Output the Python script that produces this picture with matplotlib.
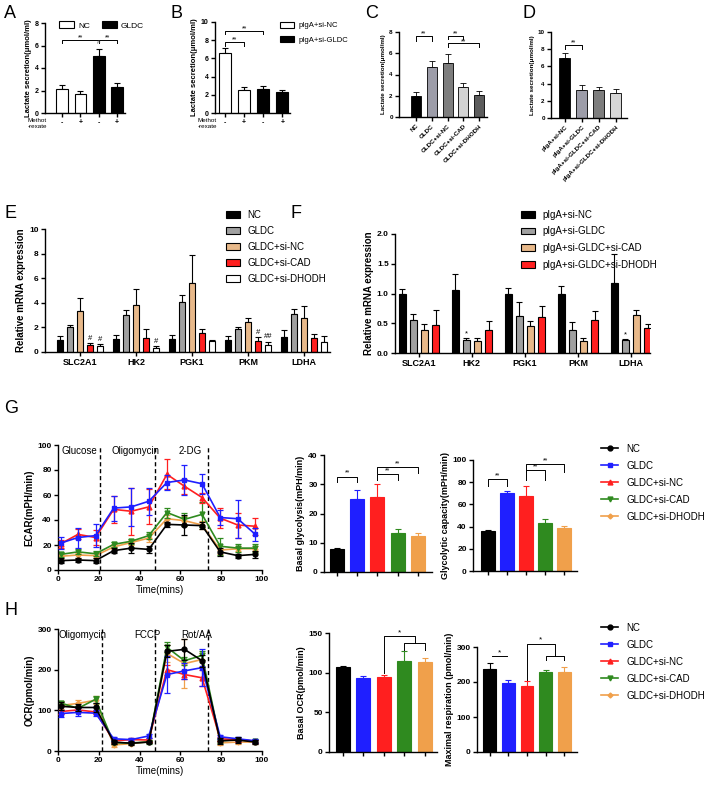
import matplotlib
matplotlib.use("Agg")
import matplotlib.pyplot as plt
from matplotlib.patches import Patch
from matplotlib.lines import Line2D
import numpy as np

plt.rcParams['font.family'] = ['Liberation Sans', 'DejaVu Sans']

# ---------------- data ----------------
# A
a_vals = [2.1, 1.7, 5.1, 2.35]
a_err = [0.4, 0.3, 0.6, 0.35]
a_ticks = ['-', '+', '-', '+']
# B
b_vals = [6.55, 2.5, 2.65, 2.3]
b_err = [0.55, 0.35, 0.3, 0.2]
b_ticks = ['-', '+', '-', '+']
# C
c_names = ['NC', 'GLDC', 'GLDC+si-NC', 'GLDC+si-CAD', 'GLDC+si-DHODH']
c_vals = [2.0, 4.75, 5.1, 2.85, 2.1]
c_err = [0.4, 0.55, 0.85, 0.35, 0.35]
# D
d_names = ['pIgA+si-NC', 'pIgA+si-GLDC', 'pIgA+si-GLDC+si-CAD', 'pIgA+si-GLDC+si-DHODH']
d_vals = [7.0, 3.25, 3.2, 2.95]
d_err = [0.6, 0.6, 0.45, 0.45]
# E
genes = ['SLC2A1', 'HK2', 'PGK1', 'PKM', 'LDHA']
e_groups = ['NC', 'GLDC', 'GLDC+si-NC', 'GLDC+si-CAD', 'GLDC+si-DHODH']
e_vals = [[1.0, 1.05, 1.05, 1.0, 1.2],
          [2.05, 3.0, 4.1, 1.85, 3.1],
          [3.3, 3.85, 5.6, 2.4, 2.75],
          [0.6, 1.1, 1.55, 0.9, 1.1],
          [0.5, 0.3, 0.9, 0.6, 0.85]]
e_err = [[0.3, 0.3, 0.35, 0.3, 0.55],
         [0.15, 0.45, 0.5, 0.15, 0.4],
         [1.1, 1.25, 2.25, 0.4, 1.0],
         [0.15, 0.8, 0.3, 0.3, 0.4],
         [0.15, 0.15, 0.05, 0.25, 0.45]]
e_marks = [(3, 0, '#'), (4, 0, '#'), (4, 1, '#'), (3, 3, '#'), (4, 3, '##')]
# F
f_groups = ['pIgA+si-NC', 'pIgA+si-GLDC', 'pIgA+si-GLDC+si-CAD', 'pIgA+si-GLDC+si-DHODH']
f_vals = [[1.0, 1.06, 1.0, 1.0, 1.17],
          [0.55, 0.22, 0.63, 0.38, 0.22],
          [0.38, 0.21, 0.45, 0.2, 0.64],
          [0.47, 0.39, 0.61, 0.55, 0.42]]
f_err = [[0.07, 0.27, 0.1, 0.12, 0.5],
         [0.1, 0.04, 0.23, 0.14, 0.02],
         [0.1, 0.05, 0.08, 0.06, 0.08],
         [0.25, 0.14, 0.18, 0.15, 0.06]]
f_marks = [(1, 1, '*'), (1, 4, '*')]
# G / H
groups = ['NC', 'GLDC', 'GLDC+si-NC', 'GLDC+si-CAD', 'GLDC+si-DHODH']
t = [1.3, 9.8, 18.4, 27.3, 35.9, 44.5, 53.4, 62.0, 70.6, 79.5, 88.1, 96.7]
ecar = [[7.5, 8, 7.5, 15.5, 17.5, 16.5, 36.5, 36, 35.5, 14.5, 11.5, 12.5],
        [21.5, 26, 27.5, 49.5, 50.5, 55, 70, 72, 69, 42, 41, 28.5],
        [21, 28.5, 26, 48.5, 47, 50.5, 76.5, 67, 58, 41.5, 36, 35],
        [12.5, 14.5, 13, 20.5, 23, 27.5, 46, 40.5, 44.5, 19, 17.5, 17.5],
        [11, 12, 11.5, 18.5, 22, 25.5, 41, 39.5, 36, 16, 17, 17]]
ecar_err = [[2, 1.5, 2, 2, 4, 3, 2, 8, 3, 3, 1.5, 2.5],
            [5, 8, 9, 10, 15, 11, 6, 12, 8, 6, 15, 5],
            [3, 4, 6, 11, 19, 14, 12, 6, 4, 8, 10, 7],
            [2, 2, 2, 2, 2, 3, 4, 5, 10, 7, 3, 3],
            [2, 2, 2, 2, 2, 3, 3, 4, 3, 3, 2, 2]]
ocr = [[110, 107, 107, 22, 19, 22, 245, 250, 222, 25, 27, 22],
       [92, 95, 93, 30, 28, 37, 188, 197, 205, 35, 30, 25],
       [97, 101, 96, 25, 28, 27, 200, 188, 180, 30, 28, 24],
       [118, 105, 127, 20, 20, 22, 255, 222, 235, 25, 28, 24],
       [112, 117, 125, 15, 18, 23, 240, 215, 225, 20, 22, 22]]
ocr_err = [[10, 8, 12, 5, 4, 3, 15, 25, 15, 8, 8, 6],
           [8, 10, 8, 5, 4, 5, 45, 20, 45, 5, 5, 5],
           [5, 6, 5, 4, 4, 4, 12, 10, 20, 5, 5, 4],
           [6, 6, 8, 4, 4, 4, 12, 10, 10, 5, 5, 4],
           [8, 8, 10, 4, 4, 4, 20, 60, 15, 5, 5, 4]]
g1_vals = [7.8, 25.0, 25.6, 13.3, 12.3]
g1_err = [0.5, 3.0, 4.4, 1.5, 0.9]
g2_vals = [36, 70.5, 67.5, 43.5, 39]
g2_err = [1, 1.5, 9, 3, 1.5]
h1_vals = [107.5, 93, 94.5, 115, 114]
h1_err = [1, 2.5, 2.5, 12, 4]
h2_vals = [238, 196, 190, 228, 228]
h2_err = [17, 10, 12, 7, 15]

seahorse_cols = ['black', '#1f1fff', '#ff1f1f', '#2f8a1f', '#f0a04b']
seahorse_mk = ['o', 's', '^', 'v', 'D']

# ---------------- helpers ----------------
W, H = 705, 785
fig = plt.figure(figsize=(W / 100, H / 100), dpi=100)


def box(l, t_, r, b):
    return fig.add_axes([l / W, 1 - b / H, (r - l) / W, (b - t_) / H])


def style(ax, fs=5, bold=True):
    for s in ['top', 'right']:
        ax.spines[s].set_visible(False)
    for s in ['left', 'bottom']:
        ax.spines[s].set_linewidth(1.0)
    ax.tick_params(labelsize=fs, length=3, width=1, pad=1.5)
    if bold:
        for lb in ax.get_yticklabels() + ax.get_xticklabels():
            lb.set_fontweight('bold')


def bars(ax, x, vals, err, cols, width, edge=None, ecol=None, lw=0.8):
    for i in range(len(vals)):
        ec = edge if edge is not None else cols[i]
        ax.bar(x[i], vals[i], width, color=cols[i], edgecolor=ec, linewidth=lw, zorder=2)
        ax.errorbar(x[i], vals[i], yerr=[[0], [err[i]]], fmt='none',
                    ecolor=ecol if ecol else ec, elinewidth=lw, capsize=2.5, capthick=lw, zorder=1)


def bracket(ax, x1, x2, y, h, text, fs=5, lw=0.7, dy=0.0):
    ax.plot([x1, x1, x2, x2], [y - h, y, y, y - h], color='black', lw=lw, clip_on=False)
    ax.text((x1 + x2) / 2, y + dy, text, ha='center', va='bottom', fontsize=fs, clip_on=False)


def letter(x, y, s):
    fig.text(x / W, 1 - y / H, s, fontsize=13, va='top', ha='left')


# ---------------- A ----------------
ax = box(45, 23, 125, 113)
x = np.arange(4)
bars(ax, x, a_vals, a_err, ['white', 'white', 'black', 'black'], 0.65, edge='black')
ax.set_xlim(-0.95, 3.45)
ax.set_ylim(0, 8)
ax.set_yticks([0, 2, 4, 6, 8])
ax.set_xticks(x)
ax.set_xticklabels(a_ticks)
ax.set_ylabel('Lactate secretion(μmol/ml)', fontsize=5.5, fontweight='bold', labelpad=2)
style(ax)
bracket(ax, 0, 2, 6.5, 0.3, '**', dy=-0.15)
bracket(ax, 2, 3, 6.5, 0.3, '**', dy=-0.15)
ax.text(2, 6.05, '#', ha='center', va='bottom', fontsize=4.5, color='#555555')
ax.legend(handles=[Patch(facecolor='white', edgecolor='black', lw=0.8),
                   Patch(facecolor='black', edgecolor='black', lw=0.8)],
          labels=['NC', 'GLDC'], ncol=2, frameon=False, fontsize=6,
          loc='upper left', bbox_to_anchor=(0.08, 1.1), handlelength=1.8, handleheight=0.8,
          columnspacing=1.4, handletextpad=0.5)
fig.text(28 / W, 1 - 118 / H, 'Methot\n-rexate', fontsize=4.5, va='top', ha='left', linespacing=1.3)
letter(4, 5, 'A')

# ---------------- B ----------------
ax = box(215, 22, 290, 113)
bars(ax, x, b_vals, b_err, ['white', 'white', 'black', 'black'], 0.63, edge='black')
ax.set_xlim(-0.53, 3.4)
ax.set_ylim(0, 10)
ax.set_yticks([0, 2, 4, 6, 8, 10])
ax.set_xticks(x)
ax.set_xticklabels(b_ticks)
ax.set_ylabel('Lactate secretion(μmol/ml)', fontsize=5.5, fontweight='bold', labelpad=2)
style(ax)
bracket(ax, 0, 1, 7.85, 0.45, '**', dy=-0.15)
bracket(ax, 0, 2, 9.05, 0.4, '**', dy=-0.15)
fig.legend(handles=[Patch(facecolor='white', edgecolor='black', lw=0.8),
                    Patch(facecolor='black', edgecolor='black', lw=0.8)],
           labels=['pIgA+si-NC', 'pIgA+si-GLDC'], frameon=False, fontsize=5.5,
           loc='upper left', bbox_to_anchor=(273 / W, 1 - 15 / H), handlelength=1.8,
           handleheight=0.8, labelspacing=0.9, handletextpad=0.6)
fig.text(198 / W, 1 - 118 / H, 'Methot\n-rexate', fontsize=4.5, va='top', ha='left', linespacing=1.3)
letter(170, 5, 'B')

# ---------------- C ----------------
ax = box(399, 32, 487, 117)
x5 = np.arange(5)
bars(ax, x5, c_vals, c_err, ['black', '#9c9ca8', '#7d7d7d', '#d3d3d3', '#5c5c5c'], 0.63, edge='black', lw=0.6)
ax.set_xlim(-1.08, 4.5)
ax.set_ylim(0, 8)
ax.set_yticks([0, 2, 4, 6, 8])
ax.set_xticks(x5)
ax.set_xticklabels(c_names, rotation=45, ha='right', rotation_mode='anchor')
ax.set_ylabel('Lactate secretion(μmol/ml)', fontsize=4.5, fontweight='bold', labelpad=2)
style(ax, fs=4.5)
bracket(ax, 0, 1, 7.6, 0.45, '**', dy=-0.15)
bracket(ax, 2, 3, 7.6, 0.3, '**', dy=-0.15)
bracket(ax, 2, 4, 6.95, 0.35, '**', dy=-0.2)
letter(365, 5, 'C')

# ---------------- D ----------------
ax = box(551, 32, 627, 118)
bars(ax, x, d_vals, d_err, ['black', '#9c9ca8', '#7d7d7d', '#d6d6d6'], 0.65, edge='black', lw=0.6)
ax.set_xlim(-0.82, 3.65)
ax.set_ylim(0, 10)
ax.set_yticks([0, 2, 4, 6, 8, 10])
ax.set_xticks(x)
ax.set_xticklabels(d_names, rotation=45, ha='right', rotation_mode='anchor')
ax.set_ylabel('Lactate secretion(μmol/ml)', fontsize=4.5, fontweight='bold', labelpad=2)
style(ax, fs=4.5)
bracket(ax, 0, 1, 8.5, 0.45, '**', dy=-0.15)
letter(522, 5, 'D')

# ---------------- E ----------------
ax = box(45, 229, 330, 352)
e_cols = ['black', '#a0a0a0', '#e8b98a', '#ff1f1f', 'white']
gx = np.arange(5)
for k in range(5):
    xs = gx + (k - 2) * 0.18
    bars(ax, xs, e_vals[k], e_err[k], [e_cols[k]] * 5, 0.11, edge='black', lw=0.8)
for k, g, s in e_marks:
    ax.text(g + (k - 2) * 0.18, e_vals[k][g] + e_err[k][g] + 0.1, s, ha='center', va='bottom', fontsize=5.5)
ax.set_xlim(-0.625, 4.46)
ax.set_ylim(0, 10)
ax.set_yticks([0, 2, 4, 6, 8, 10])
ax.set_xticks(gx)
ax.set_xticklabels(genes)
ax.set_ylabel('Relative mRNA expression', fontsize=7, fontweight='bold', labelpad=2)
style(ax, fs=6)
for lb in ax.get_xticklabels():
    lb.set_fontsize(6.5)
fig.legend(handles=[Patch(facecolor=c, edgecolor='black', lw=0.8) for c in e_cols],
           labels=e_groups, frameon=False, fontsize=7,
           loc='upper left', bbox_to_anchor=(217 / W, 1 - 201 / H), handlelength=1.5,
           handleheight=0.7, labelspacing=0.62, handletextpad=0.7)
letter(4, 205, 'E')

# ---------------- F ----------------
ax = box(395, 234, 650, 353)
f_cols = ['black', '#a0a0a0', '#e8b98a', '#ff1f1f']
for k in range(4):
    xs = gx + (k - 1.5) * 0.21
    bars(ax, xs, f_vals[k], f_err[k], [f_cols[k]] * 5, 0.13, edge='black', lw=0.8)
for k, g, s in f_marks:
    ax.text(g + (k - 1.5) * 0.21, f_vals[k][g] + f_err[k][g] + 0.01, s, ha='center', va='bottom', fontsize=5.5)
ax.set_xlim(-0.45, 4.36)
ax.set_ylim(0, 2.0)
ax.set_yticks([0, 0.5, 1.0, 1.5, 2.0])
ax.set_yticklabels(['0.0', '0.5', '1.0', '1.5', '2.0'])
ax.set_xticks(gx)
ax.set_xticklabels(genes)
ax.set_ylabel('Relative mRNA expression', fontsize=7, fontweight='bold', labelpad=2)
style(ax, fs=6)
for lb in ax.get_xticklabels():
    lb.set_fontsize(6.5)
fig.legend(handles=[Patch(facecolor=c, edgecolor='black', lw=0.8) for c in f_cols],
           labels=f_groups, frameon=False, fontsize=7,
           loc='upper left', bbox_to_anchor=(512 / W, 1 - 201 / H), handlelength=1.5,
           handleheight=0.7, labelspacing=0.68, handletextpad=0.7)
letter(290, 205, 'F')


# ---------------- G / H line plots ----------------
def seahorse(ax, data, err, ylim, yticks, ylabel, vlines, labels):
    for k in range(5):
        ax.errorbar(t, data[k], yerr=err[k], color=seahorse_cols[k], marker=seahorse_mk[k],
                    ms=3.5 if k < 4 else 2.5, lw=1.2, elinewidth=0.9, capsize=2.5, capthick=0.9,
                    zorder=5 - k if k > 0 else 6)
    for v in vlines:
        ax.axvline(v, color='black', ls=(0, (3, 2)), lw=1.0)
    for (xp, s) in labels:
        ax.text(xp, ylim[1] * 0.99, s, ha='center', va='top', fontsize=7)
    ax.set_xlim(0, 100)
    ax.set_ylim(*ylim)
    ax.set_yticks(yticks)
    ax.set_xticks([0, 20, 40, 60, 80, 100])
    ax.set_xlabel('Time(mins)', fontsize=7, labelpad=1)
    ax.set_ylabel(ylabel, fontsize=7, fontweight='bold', labelpad=2)
    style(ax, fs=6)


ax = box(58, 445, 262, 570)
seahorse(ax, ecar, ecar_err, (0, 100), [0, 20, 40, 60, 80, 100], 'ECAR(mPH/min)',
         [20.8, 47.5, 73.6], [(10.5, 'Glucose'), (38, 'Oligomycin'), (65, '2-DG')])
letter(4, 400, 'G')

ax = box(58, 629, 262, 751)
seahorse(ax, ocr, ocr_err, (0, 300), [0, 100, 200, 300], 'OCR(pmol/min)',
         [21.6, 47.5, 73.6], [(12, 'Oligomycin'), (44, 'FCCP'), (68, 'Rot/AA')])
letter(4, 602, 'H')


# ---------------- G / H bar plots ----------------
def sbars(ax, vals, err, ylim, yticks, ylabel, width):
    bars(ax, x5, vals, err, seahorse_cols, width, lw=0.8)
    ax.set_ylim(*ylim)
    ax.set_yticks(yticks)
    ax.set_xticks(x5)
    ax.set_xticklabels([''] * 5)
    ax.set_ylabel(ylabel, fontsize=6.5, fontweight='bold', labelpad=2)
    style(ax, fs=6)


ax = box(324, 455, 432, 572)
sbars(ax, g1_vals, g1_err, (0, 40), [0, 10, 20, 30, 40], 'Basal glycolysis(mPH/min)', 0.69)
ax.set_xlim(-0.64, 4.7)
bracket(ax, 0, 1, 32.6, 2.0, '**')
bracket(ax, 2, 3, 33.5, 2.2, '**')
bracket(ax, 2, 4, 35.8, 1.8, '**')

ax = box(473, 460, 577, 571)
sbars(ax, g2_vals, g2_err, (0, 100), [0, 20, 40, 60, 80, 100], 'Glycolytic capacity(mPH/min)', 0.73)
ax.set_xlim(-0.79, 4.68)
bracket(ax, 0, 1, 82.6, 6, '**')
bracket(ax, 2, 3, 91, 9, '**')
bracket(ax, 2, 4, 96, 7, '**')

ax = box(329, 633, 437, 752)
sbars(ax, h1_vals, h1_err, (0, 150), [0, 50, 100, 150], 'Basal OCR(pmol/min)', 0.68)
ax.set_xlim(-0.68, 4.6)
ax.plot([3, 3, 4, 4], [129, 137, 137, 129], color='black', lw=0.7, clip_on=False)
ax.plot([2, 2, 3.5, 3.5], [99, 146, 146, 137], color='black', lw=0.7, clip_on=False)
ax.text(2.75, 146, '*', ha='center', va='bottom', fontsize=6)

ax = box(477, 647, 577, 752)
sbars(ax, h2_vals, h2_err, (0, 300), [0, 100, 200, 300], 'Maximal respiration (pmol/min)', 0.7)
ax.set_xlim(-0.7, 4.7)
ax.plot([0.1, 0.9], [273, 273], color='black', lw=0.7, clip_on=False)
ax.text(0.5, 273, '*', ha='center', va='bottom', fontsize=6)
ax.plot([3, 3, 4, 4], [262, 275, 275, 262], color='black', lw=0.7, clip_on=False)
ax.plot([2, 2, 3.5, 3.5], [205, 310, 310, 275], color='black', lw=0.7, clip_on=False)
ax.text(2.75, 310, '*', ha='center', va='bottom', fontsize=6)

# legends for G and H
lh = [Line2D([], [], color=seahorse_cols[k], marker=seahorse_mk[k], ms=3.5 if k < 4 else 2.5, lw=1.2)
      for k in range(5)]
fig.legend(handles=lh, labels=groups, frameon=False, fontsize=7, loc='upper left',
           bbox_to_anchor=(592 / W, 1 - 435 / H), handlelength=1.8, labelspacing=0.72, handletextpad=0.8)
fig.legend(handles=lh, labels=groups, frameon=False, fontsize=7, loc='upper left',
           bbox_to_anchor=(592 / W, 1 - 614 / H), handlelength=1.8, labelspacing=0.72, handletextpad=0.8)

fig.savefig('out.png', dpi=100)
